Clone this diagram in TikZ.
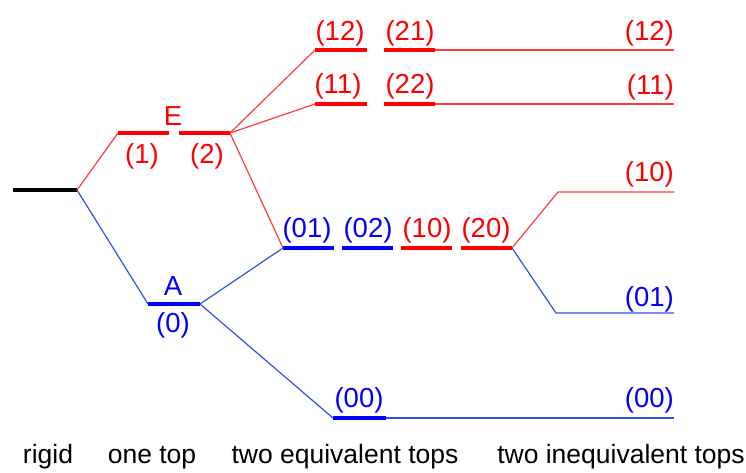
\documentclass[tikz,border=0pt]{standalone}
\usepackage{fontspec}
\setmainfont{Liberation Sans}
\definecolor{lred}{RGB}{255,0,0}
\definecolor{lblue}{RGB}{0,0,255}
\definecolor{tred}{RGB}{255,60,60}
\definecolor{tblue}{RGB}{50,80,230}
\begin{document}
\begin{tikzpicture}[x=1pt,y=-1pt,
  lev/.style={line width=3.8pt},
  conn/.style={line width=1.2pt},
  lab/.style={inner sep=0pt,anchor=base,font=\fontsize{27.5}{30}\selectfont},
  rlab/.style={inner sep=0pt,anchor=base east,font=\fontsize{27.5}{30}\selectfont},
  captext/.style={inner sep=0pt,anchor=base,font=\fontsize{26.5}{30}\selectfont,text=black}]
\useasboundingbox (0,0) rectangle (746,472);
% level endpoints
\coordinate (r1) at (13,190); \coordinate (r2) at (77,190);
\coordinate (e1a) at (118,133); \coordinate (e1b) at (169,133);
\coordinate (e2a) at (179,133); \coordinate (e2b) at (230,133);
\coordinate (aa) at (148,304); \coordinate (ab) at (200,304);
\coordinate (l12a) at (315,50); \coordinate (l12b) at (367,50);
\coordinate (l21a) at (384,50); \coordinate (l21b) at (435,50);
\coordinate (l11a) at (315,104); \coordinate (l11b) at (367,104);
\coordinate (l22a) at (384,104); \coordinate (l22b) at (435,104);
\coordinate (l01a) at (283,248); \coordinate (l01b) at (334,248);
\coordinate (l02a) at (342,248); \coordinate (l02b) at (393,248);
\coordinate (l10a) at (401,248); \coordinate (l10b) at (452,248);
\coordinate (l20a) at (461,248); \coordinate (l20b) at (512,248);
\coordinate (l00a) at (333,418); \coordinate (l00b) at (386,418);
\coordinate (k10) at (558,192); \coordinate (k01) at (556,313);
\coordinate (f12) at (674,50); \coordinate (f11) at (674,104);
\coordinate (f10) at (674,192); \coordinate (f01) at (674,313);
\coordinate (f00) at (674,418);
% thick levels
\draw[lev,black] (r1) -- (r2);
\draw[lev,lred] (e1a) -- (e1b);
\draw[lev,lred] (e2a) -- (e2b);
\draw[lev,lblue] (aa) -- (ab);
\draw[lev,lred] (l12a) -- (l12b);
\draw[lev,lred] (l21a) -- (l21b);
\draw[lev,lred] (l11a) -- (l11b);
\draw[lev,lred] (l22a) -- (l22b);
\draw[lev,lblue] (l01a) -- (l01b);
\draw[lev,lblue] (l02a) -- (l02b);
\draw[lev,lred] (l10a) -- (l10b);
\draw[lev,lred] (l20a) -- (l20b);
\draw[lev,lblue] (l00a) -- (l00b);
% connectors
\draw[conn,tred] (r2) -- (e1a);
\draw[conn,tblue] (r2) -- (aa);
\draw[conn,tred] (e2b) -- (l12a);
\draw[conn,tred] (e2b) -- (l11a);
\draw[conn,tred] (e2b) -- (l01a);
\draw[conn,tblue] (ab) -- (l01a);
\draw[conn,tblue] (ab) -- (l00a);
\draw[conn,tred] (l21b) -- (f12);
\draw[conn,tred] (l22b) -- (f11);
\draw[conn,tred] (l20b) -- (k10) -- (f10);
\draw[conn,tblue] (l20b) -- (k01) -- (f01);
\draw[conn,tblue] (l00b) -- (f00);
% labels
\node[lab,text=lred] (tE) at (173,125) {E};
\node[lab,text=lred] (t1) at (142,163) {(1)};
\node[lab,text=lred] (t2) at (207,163) {(2)};
\node[lab,text=lblue] (tA) at (173,295) {A};
\node[lab,text=lblue] (t0) at (173,332) {(0)};
\node[lab,text=lred] (t12) at (340,40) {(12)};
\node[lab,text=lred] (t21) at (410,40) {(21)};
\node[lab,text=lred] (t11) at (338,93) {(11)};
\node[lab,text=lred] (t22) at (410,93) {(22)};
\node[lab,text=lblue] (t01) at (307,237) {(01)};
\node[lab,text=lblue] (t02) at (368,237) {(02)};
\node[lab,text=lred] (t10) at (427,237) {(10)};
\node[lab,text=lred] (t20) at (486,237) {(20)};
\node[lab,text=lblue] (t00) at (359,407) {(00)};
\node[rlab,text=lred] (r12) at (674,40) {(12)};
\node[rlab,text=lred] (r11) at (674,94) {(11)};
\node[rlab,text=lred] (r10) at (674,181) {(10)};
\node[rlab,text=lblue] (r01) at (674,306) {(01)};
\node[rlab,text=lblue] (r00) at (674,407) {(00)};
\node[captext] (c1) at (48,463) {rigid};
\node[captext] (c2) at (152,463) {one top};
\node[captext] (c3) at (345,463) {two equivalent tops};
\node[captext] (c4) at (621,463) {two inequivalent tops};
\end{tikzpicture}
\end{document}
